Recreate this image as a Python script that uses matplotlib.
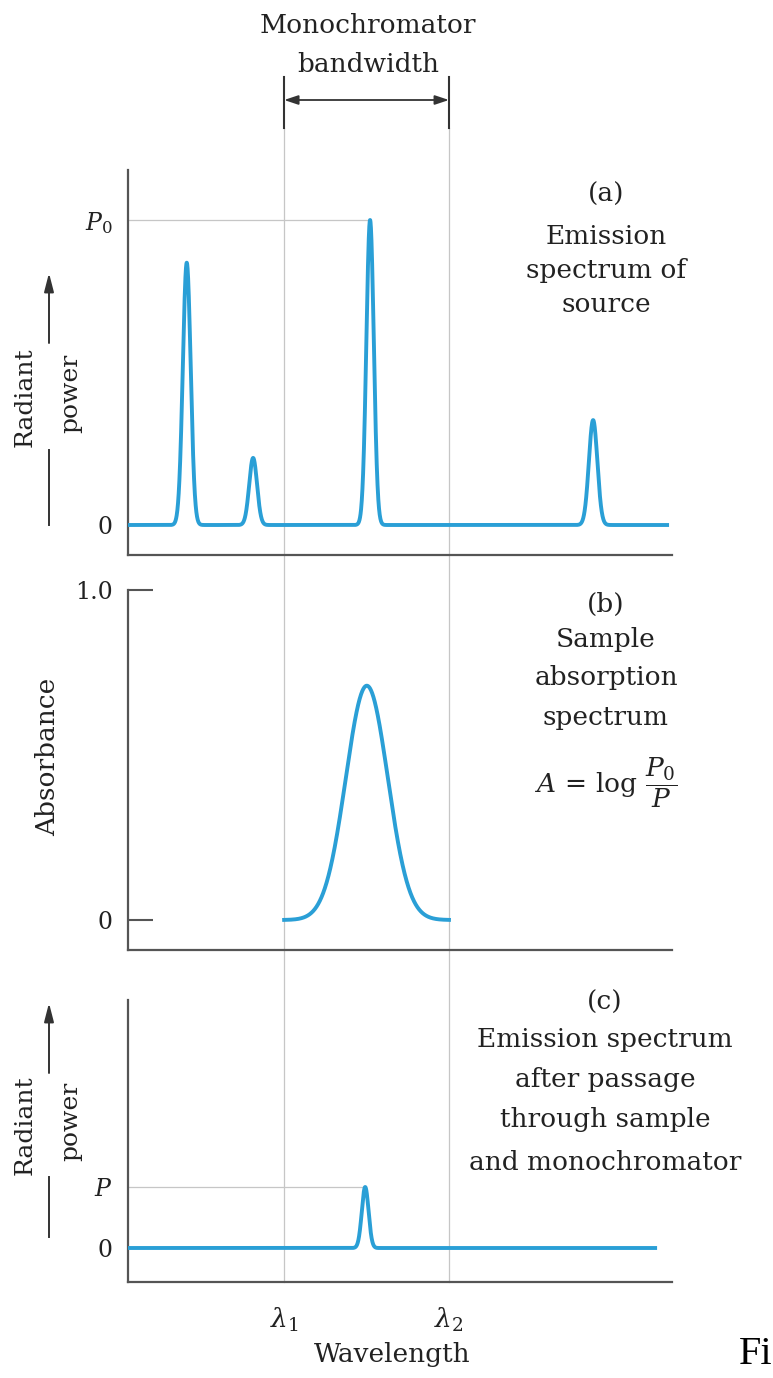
import matplotlib
matplotlib.use("Agg")
import matplotlib.pyplot as plt
import numpy as np
from matplotlib import transforms
from matplotlib.lines import Line2D

# ---------------- data ----------------
# wavelength axis in arbitrary units 0..100
source_centers = [10.8, 23.0, 44.5, 85.5]      # emission lines of the source
source_heights = [0.86, 0.22, 1.00, 0.344]     # relative to P0
source_widths = [0.72, 0.72, 0.68, 0.78]       # gaussian sigma
source_end = 99.1

absorb_center = 43.9                           # sample absorption band
absorb_peak = 0.71
absorb_width = 3.86

lam1, lam2 = 28.7, 59.0                        # monochromator band edges

trans_center = 43.6                            # transmitted line
trans_height = 0.20                            # = P
trans_width = 0.62
trans_end = 96.9

a_ticks, a_ticklabels = [0, 1.0], ["0", r"$P_0$"]
b_ticks, b_ticklabels = [0, 1.0], ["0", "1.0"]
c_ticks, c_ticklabels = [0, trans_height], ["0", r"$P$"]

# ---------------- style ----------------
plt.rcParams["font.family"] = ["DejaVu Serif"]
plt.rcParams["mathtext.fontset"] = "dejavuserif"
BLUE = "#2a9fd6"
AXC = "#555555"
TXT = "#222222"
GUIDE = "#c6c6c6"

W, H = 773, 1378
fig = plt.figure(figsize=(W / 100, H / 100), dpi=100)


def fx(px):
    return px / W


def fy(py):
    return 1 - py / H


def make_ax(top, bottom, ylo, yhi):
    ax = fig.add_axes([fx(128), fy(bottom), fx(672) - fx(128), (bottom - top) / H])
    ax.set_facecolor("none")
    ax.set_xlim(0, 100)
    ax.set_ylim(ylo, yhi)
    for s in ("top", "right"):
        ax.spines[s].set_visible(False)
    for s in ("left", "bottom"):
        ax.spines[s].set_color(AXC)
        ax.spines[s].set_linewidth(1.6)
    ax.set_xticks([])
    return ax


ax_a = make_ax(170, 555, -30 / 305, 355 / 305)
ax_b = make_ax(590, 950, -30 / 330, 1.0)
ax_c = make_ax(1000, 1282, -34 / 305, 248 / 305)


def gauss(x, c, h, w):
    return h * np.exp(-0.5 * ((x - c) / w) ** 2)


# (a) emission spectrum of source
xa = np.linspace(0, source_end, 4000)
ya = np.zeros_like(xa)
for c, h, w in zip(source_centers, source_heights, source_widths):
    ya += gauss(xa, c, h, w)
ax_a.plot(xa, ya, color=BLUE, lw=2.8, zorder=3)
ax_a.hlines(1.0, 0, source_centers[int(np.argmax(source_heights))], color=GUIDE, lw=0.9, zorder=1)
ax_a.set_yticks(a_ticks)
ax_a.set_yticklabels(a_ticklabels, fontsize=17, color=TXT)
ax_a.tick_params(axis="y", length=0, pad=11)

# (b) absorption spectrum
xb = np.linspace(lam1, lam2, 800)
yb = gauss(xb, absorb_center, absorb_peak, absorb_width)
ax_b.plot(xb, yb, color=BLUE, lw=2.8, zorder=3)
ax_b.set_yticks(b_ticks)
ax_b.set_yticklabels(b_ticklabels, fontsize=17, color=TXT)
ax_b.tick_params(axis="y", direction="in", length=18, width=1.5, color=AXC, pad=11)

# (c) after sample + monochromator
xc = np.linspace(0, trans_end, 4000)
yc = gauss(xc, trans_center, trans_height, trans_width)
ax_c.plot(xc, yc, color=BLUE, lw=2.8, zorder=3)
ax_c.hlines(trans_height, 0, trans_center, color=GUIDE, lw=0.9, zorder=1)
ax_c.set_yticks(c_ticks)
ax_c.set_yticklabels(c_ticklabels, fontsize=17, color=TXT)
ax_c.tick_params(axis="y", length=0, pad=11)

# ---------------- lambda guide lines and bracket ----------------
tr = transforms.blended_transform_factory(ax_a.transData, fig.transFigure)
for lam in (lam1, lam2):
    fig.add_artist(Line2D([lam, lam], [fy(128), fy(1282)], transform=tr,
                          color=GUIDE, lw=0.9, zorder=-1))
    fig.add_artist(Line2D([lam, lam], [fy(77), fy(128)], transform=tr,
                          color="#333333", lw=1.5))
ax_a.annotate("", xy=(lam2, fy(100)), xytext=(lam1, fy(100)), xycoords=tr, textcoords=tr,
              arrowprops=dict(arrowstyle="<|-|>,head_length=0.6,head_width=0.2",
                              color="#333333", lw=1.3, mutation_scale=14,
                              shrinkA=0, shrinkB=0),
              annotation_clip=False)

FS = 19
fig.text(fx(368), fy(33), "Monochromator", ha="center", va="baseline", fontsize=FS, color=TXT)
fig.text(fx(368), fy(72), "bandwidth", ha="center", va="baseline", fontsize=FS, color=TXT)

# lambda labels
ax_c.text(lam1, fy(1320), r"$\lambda_1$", transform=tr, ha="center", va="center",
          fontsize=FS, color=TXT)
ax_c.text(lam2, fy(1320), r"$\lambda_2$", transform=tr, ha="center", va="center",
          fontsize=FS, color=TXT)
fig.text(fx(392), fy(1362), "Wavelength", ha="center", va="baseline", fontsize=FS, color=TXT)
fig.text(fx(739), fy(1364), "Fi", ha="left", va="baseline", fontsize=29, color="black",
         family=["Liberation Serif", "DejaVu Serif"])

# ---------------- panel captions ----------------
CX = 606
for s, yb_ in [("(a)", 202), ("Emission", 244), ("spectrum of", 278), ("source", 312)]:
    fig.text(fx(CX), fy(yb_), s, ha="center", va="baseline", fontsize=FS, color=TXT)
for s, yb_ in [("(b)", 612), ("Sample", 647), ("absorption", 685), ("spectrum", 725)]:
    fig.text(fx(CX), fy(yb_), s, ha="center", va="baseline", fontsize=FS, color=TXT)
fig.text(fx(CX), fy(783), r"$A\,=\,\log\,\dfrac{P_0}{P}$", ha="center", va="center",
         fontsize=FS, color=TXT)
for s, yb_ in [("(c)", 1010), ("Emission spectrum", 1047), ("after passage", 1087),
               ("through sample", 1127), ("and monochromator", 1170)]:
    fig.text(fx(CX - 1), fy(yb_), s, ha="center", va="baseline", fontsize=FS, color=TXT)

# ---------------- y-axis labels ----------------
fig.text(fx(48), fy(757), "Absorbance", rotation=90, ha="center", va="center",
         fontsize=FS, color=TXT)


def radiant_label(yc_, tip, tail, low0, low1):
    fig.text(fx(25), fy(yc_), "Radiant", rotation=90, ha="center", va="center",
             fontsize=18, color=TXT)
    fig.text(fx(71), fy(yc_ - 4), "power", rotation=90, ha="center", va="center",
             fontsize=18, color=TXT)
    ax_a.annotate("", xy=(fx(49), fy(tip)), xytext=(fx(49), fy(tail)),
                  xycoords="figure fraction", textcoords="figure fraction",
                  arrowprops=dict(arrowstyle="-|>,head_length=0.7,head_width=0.18",
                                  color="#333333", lw=1.4, mutation_scale=16,
                                  shrinkA=0, shrinkB=0),
                  annotation_clip=False)
    fig.add_artist(Line2D([fx(49), fx(49)], [fy(low0), fy(low1)], color="#333333", lw=1.4))


radiant_label(397, 273, 343, 450, 525)
radiant_label(1125, 1003, 1073, 1177, 1237)

fig.savefig("out.png", dpi=100)
